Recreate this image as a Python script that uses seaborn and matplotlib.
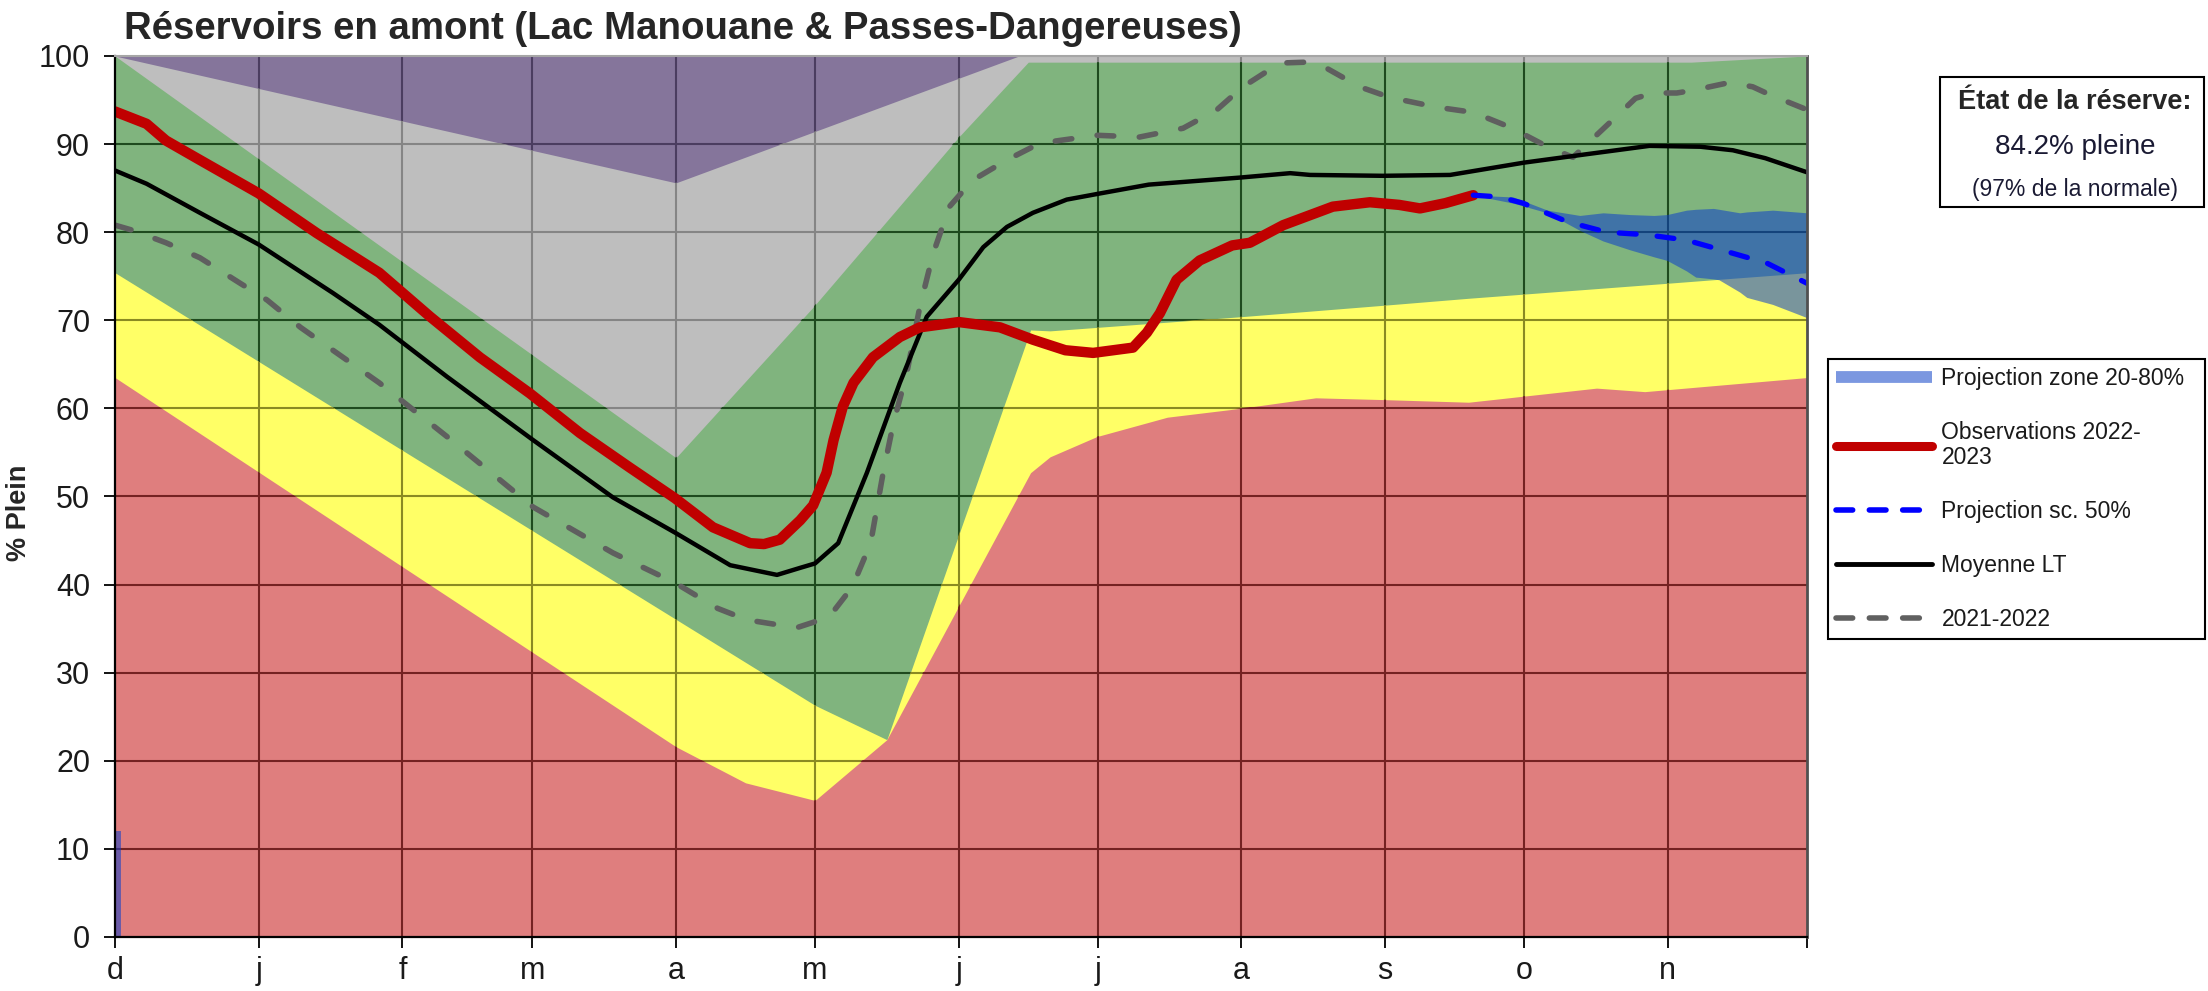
import matplotlib
matplotlib.use("Agg")
import matplotlib.pyplot as plt
import seaborn as sns
from matplotlib.collections import LineCollection
from matplotlib.lines import Line2D
from matplotlib.patches import Rectangle

# --- data (day 0 = 1 December) ---
month_days = [0, 31, 62, 90, 121, 151, 182, 212, 243, 274, 304, 335, 365]
month_labels = ['d', 'j', 'f', 'm', 'a', 'm', 'j', 'j', 'a', 's', 'o', 'n', '']

# upper edge of each zone (stacked from the top)
gray_days = [0, 121, 195, 365]
gray_top = [100, 85.6, 100, 100]

green_days = [0, 121, 150.6, 182, 197, 340, 365]
green_top = [100, 54.4, 71.5, 90.8, 99.3, 99.3, 100]

yellow_days = [0, 151, 166.5, 197.5, 201.7, 242.7, 273.5, 292, 334.8, 344.7, 365]
yellow_top = [75.4, 26.3, 22.4, 68.9, 68.8, 70.4, 71.7, 72.5, 74.2, 74.6, 75.4]

red_days = [0, 121, 136, 151, 166.5, 197.5, 201.7, 211.8, 227, 242.7, 259, 273.5, 292, 319.6, 330, 365]
red_top = [63.5, 21.6, 17.5, 15.5, 22.4, 52.7, 54.5, 56.8, 59.0, 60.0, 61.2, 61.0, 60.7, 62.3, 61.9, 63.5]

# projection band 20-80 %
proj_days = [293, 301.6, 309, 316, 321, 326.8, 332, 334.8, 339, 341, 344.8, 346, 350.5, 352, 357.6, 365]
proj_low = [84.2, 83.3, 82.2, 80.2, 79.0, 78.0, 77.2, 76.8, 75.6, 74.9, 74.7, 74.6, 73.2, 72.6, 71.8, 70.3]
proj_high = [84.2, 84.0, 82.5, 81.9, 82.2, 82.0, 81.9, 82.0, 82.5, 82.6, 82.7, 82.6, 82.2, 82.3, 82.5, 82.2]
stub_days = [0, 1.2]
stub_high = [12, 12]

obs_days = [0, 6.8, 11, 18.3, 31, 43.5, 57, 68, 78.7, 89.5, 100.3, 111, 120.8, 129, 137,
            140, 143.4, 147.8, 150.6, 153.5, 155, 157, 159.3, 163.5, 169.3, 173.6, 182,
            190.9, 198, 205, 211, 219.6, 222.6, 225.4, 229, 234, 241, 244.8, 252, 262.7,
            270.7, 277, 281.5, 287, 293]
obs_vals = [93.7, 92.3, 90.4, 88.2, 84.4, 79.9, 75.4, 70.4, 65.8, 61.7, 57.2, 53.3, 49.8,
            46.5, 44.7, 44.6, 45.1, 47.3, 49.0, 52.7, 56.4, 60.2, 62.9, 65.8, 68.1, 69.2,
            69.8, 69.2, 67.8, 66.6, 66.3, 66.9, 68.6, 70.8, 74.6, 76.8, 78.5, 78.8, 80.8,
            82.9, 83.4, 83.1, 82.7, 83.3, 84.2]

p50_days = [293, 298.7, 303.7, 313.2, 321.8, 330.5, 339, 347.7, 356.3, 365]
p50_vals = [84.2, 84.0, 83.3, 81.2, 80.0, 79.7, 79.1, 77.8, 76.5, 74.2]

lt_days = [0, 6.8, 18.3, 31, 47, 57, 71.6, 90.2, 107.4, 120.8, 132.7, 142.8, 147.8, 151,
           156, 162.2, 169.3, 175.1, 182, 187.3, 192.4, 198, 205.3, 212.5, 223, 242.7,
           253.5, 257.8, 273.5, 288, 304, 316.7, 331, 342, 349, 356, 365]
lt_vals = [87.0, 85.5, 82.2, 78.6, 73.1, 69.5, 63.6, 56.4, 49.9, 45.9, 42.2, 41.1, 41.9,
           42.4, 44.7, 52.7, 62.9, 70.4, 74.6, 78.3, 80.6, 82.2, 83.7, 84.4, 85.4, 86.2,
           86.7, 86.5, 86.4, 86.5, 87.9, 88.8, 89.8, 89.7, 89.3, 88.4, 86.8]

prev_days = [0, 3.9, 11, 18.3, 27, 32.8, 40, 47, 57, 71.6, 90.2, 107.4, 120.8, 130, 136.3,
             147, 154, 159, 163, 165.7, 167.9, 170.8, 173.6, 176.5, 180, 185, 192.4, 199.5,
             211.8, 221, 230.4, 237.7, 243.3, 251.3, 257, 261.4, 268.5, 275, 285, 293, 301,
             309, 314.5, 324.6, 328, 331.8, 336.9, 340.4, 348.4, 353.3, 357, 365]
prev_vals = [80.8, 80.2, 78.8, 77.1, 74.2, 72.3, 69.2, 66.6, 62.9, 56.8, 48.8, 43.6, 40.2,
             37.3, 36.0, 35.1, 36.3, 39.7, 44.7, 52.7, 58.3, 64.0, 71.5, 77.6, 82.9, 85.9,
             88.2, 90.1, 91.0, 90.8, 91.8, 93.9, 96.5, 99.2, 99.3, 98.6, 96.5, 95.3, 94.2,
             93.6, 91.9, 89.7, 88.5, 93.5, 95.2, 95.8, 95.8, 96.1, 97.0, 96.5, 95.6, 93.9]

sns.set_theme(style='white')
plt.rcParams['font.family'] = ['Liberation Sans', 'DejaVu Sans']

fig = plt.figure(figsize=(22.08, 9.91), dpi=100)
ax = fig.add_axes([0.0521, 0.0545, 0.7663, 0.889])

# grid segments, redrawn in each zone's own tint
grid_segs = [[(d, 0), (d, 100)] for d in month_days[1:-1]]
grid_segs += [[(0, v), (365, v)] for v in range(10, 100, 10)]


def zone(days, top, color, grid_color):
    poly = ax.fill_between(days, 0, top, color=color, lw=0, zorder=1)
    lc = LineCollection(grid_segs, colors=grid_color, linewidths=1.5, zorder=1)
    ax.add_collection(lc)
    lc.set_clip_path(poly.get_paths()[0], ax.transData)


zone([0, 365], [100, 100], '#85759b', '#4b3d60')
zone(gray_days, gray_top, '#bebebe', '#858585')
zone(green_days, green_top, '#80b47e', '#1e4a1e')
zone(yellow_days, yellow_top, '#ffff66', '#8a8a22')
zone(red_days, red_top, '#df7e7e', '#742222')

ax.fill_between(proj_days, proj_low, proj_high, color='#0c3fc9', alpha=0.55, lw=0, zorder=2)
ax.fill_between(stub_days, 0, stub_high, color='#0c3fc9', alpha=0.55, lw=0, zorder=2)

sns.lineplot(x=prev_days, y=prev_vals, ax=ax, color='#5f5f5f', lw=4, sort=False,
             estimator=None, linestyle=(0, (3, 4.6)), dash_capstyle='round', zorder=3)
sns.lineplot(x=lt_days, y=lt_vals, ax=ax, color='black', lw=3.2, sort=False,
             estimator=None, zorder=4)
sns.lineplot(x=obs_days, y=obs_vals, ax=ax, color='#c00000', lw=7.5, sort=False,
             estimator=None, solid_capstyle='round', solid_joinstyle='round', zorder=5)
sns.lineplot(x=p50_days, y=p50_vals, ax=ax, color='#0000ff', lw=3.8, sort=False,
             estimator=None, linestyle=(0, (3.2, 4)), dash_capstyle='round', zorder=5)

ax.set_xlim(0, 365)
ax.set_ylim(0, 100)
ax.set_xticks(month_days)
ax.set_xticklabels(month_labels)
ax.set_yticks(range(0, 101, 10))
ax.tick_params(axis='both', direction='out', length=8, width=1.3, color='black',
               labelsize=22, labelcolor='#1a1a1a')
ax.tick_params(axis='x', pad=6, bottom=True)
ax.tick_params(axis='y', pad=10, left=True)
ax.set_xlabel('')
ax.set_ylabel('% Plein', fontsize=19.5, fontweight='bold')
ax.yaxis.set_label_coords(-0.049, 0.482)

for side, col, w in [('left', 'black', 1.6), ('bottom', 'black', 1.6),
                     ('top', '#a6a6a6', 1.5), ('right', '#505050', 2)]:
    ax.spines[side].set_visible(True)
    ax.spines[side].set_color(col)
    ax.spines[side].set_linewidth(w)
    ax.spines[side].set_zorder(6)

fig.text(0.0562, 0.9605, 'Réservoirs en amont (Lac Manouane & Passes-Dangereuses)',
         fontsize=27.6, fontweight='bold', va='baseline', ha='left')

# legend
handles = [
    Line2D([], [], color='#7b97e0', lw=8.5, solid_capstyle='butt'),
    Line2D([], [], color='#c00000', lw=6.5, solid_capstyle='round'),
    Line2D([], [], color='#0000ff', lw=4, linestyle=(0, (3, 3)), dash_capstyle='round'),
    Line2D([], [], color='black', lw=3.5),
    Line2D([], [], color='#606060', lw=4, linestyle=(0, (3, 3)), dash_capstyle='round'),
]
labels = ['Projection zone 20-80%', 'Observations 2022-\n2023', 'Projection sc. 50%',
          'Moyenne LT', '2021-2022']
leg = fig.legend(handles, labels, loc='upper left',
                 bbox_to_anchor=(1828 / 2208, 1 - 652 / 991, 377 / 2208, 293 / 991),
                 mode='expand', borderaxespad=0, fontsize=16.5, handlelength=4.2,
                 handletextpad=0.4, labelspacing=1.35, borderpad=0.35,
                 frameon=True, fancybox=False, framealpha=1, edgecolor='black')
leg.get_frame().set_linewidth(1.5)
for t in leg.get_texts():
    t.set_color('#1a1a1a')
    t.set_linespacing(1.1)

# reserve status box
fig.patches.append(Rectangle((1940 / 2208, 1 - 207 / 991), 264 / 2208, 130 / 991,
                             transform=fig.transFigure, facecolor='white',
                             edgecolor='black', lw=1.5))
fig.text(0.9397, 0.897, 'État de la réserve:', fontsize=19.5, fontweight='bold',
         ha='center', va='center')
fig.text(0.9397, 0.8517, '84.2% pleine', fontsize=20, ha='center', va='center',
         color='#1a1a33')
fig.text(0.9397, 0.8083, '(97% de la normale)', fontsize=16.5, ha='center', va='center',
         color='#1a1a33')

fig.savefig('out.png', dpi=100)
